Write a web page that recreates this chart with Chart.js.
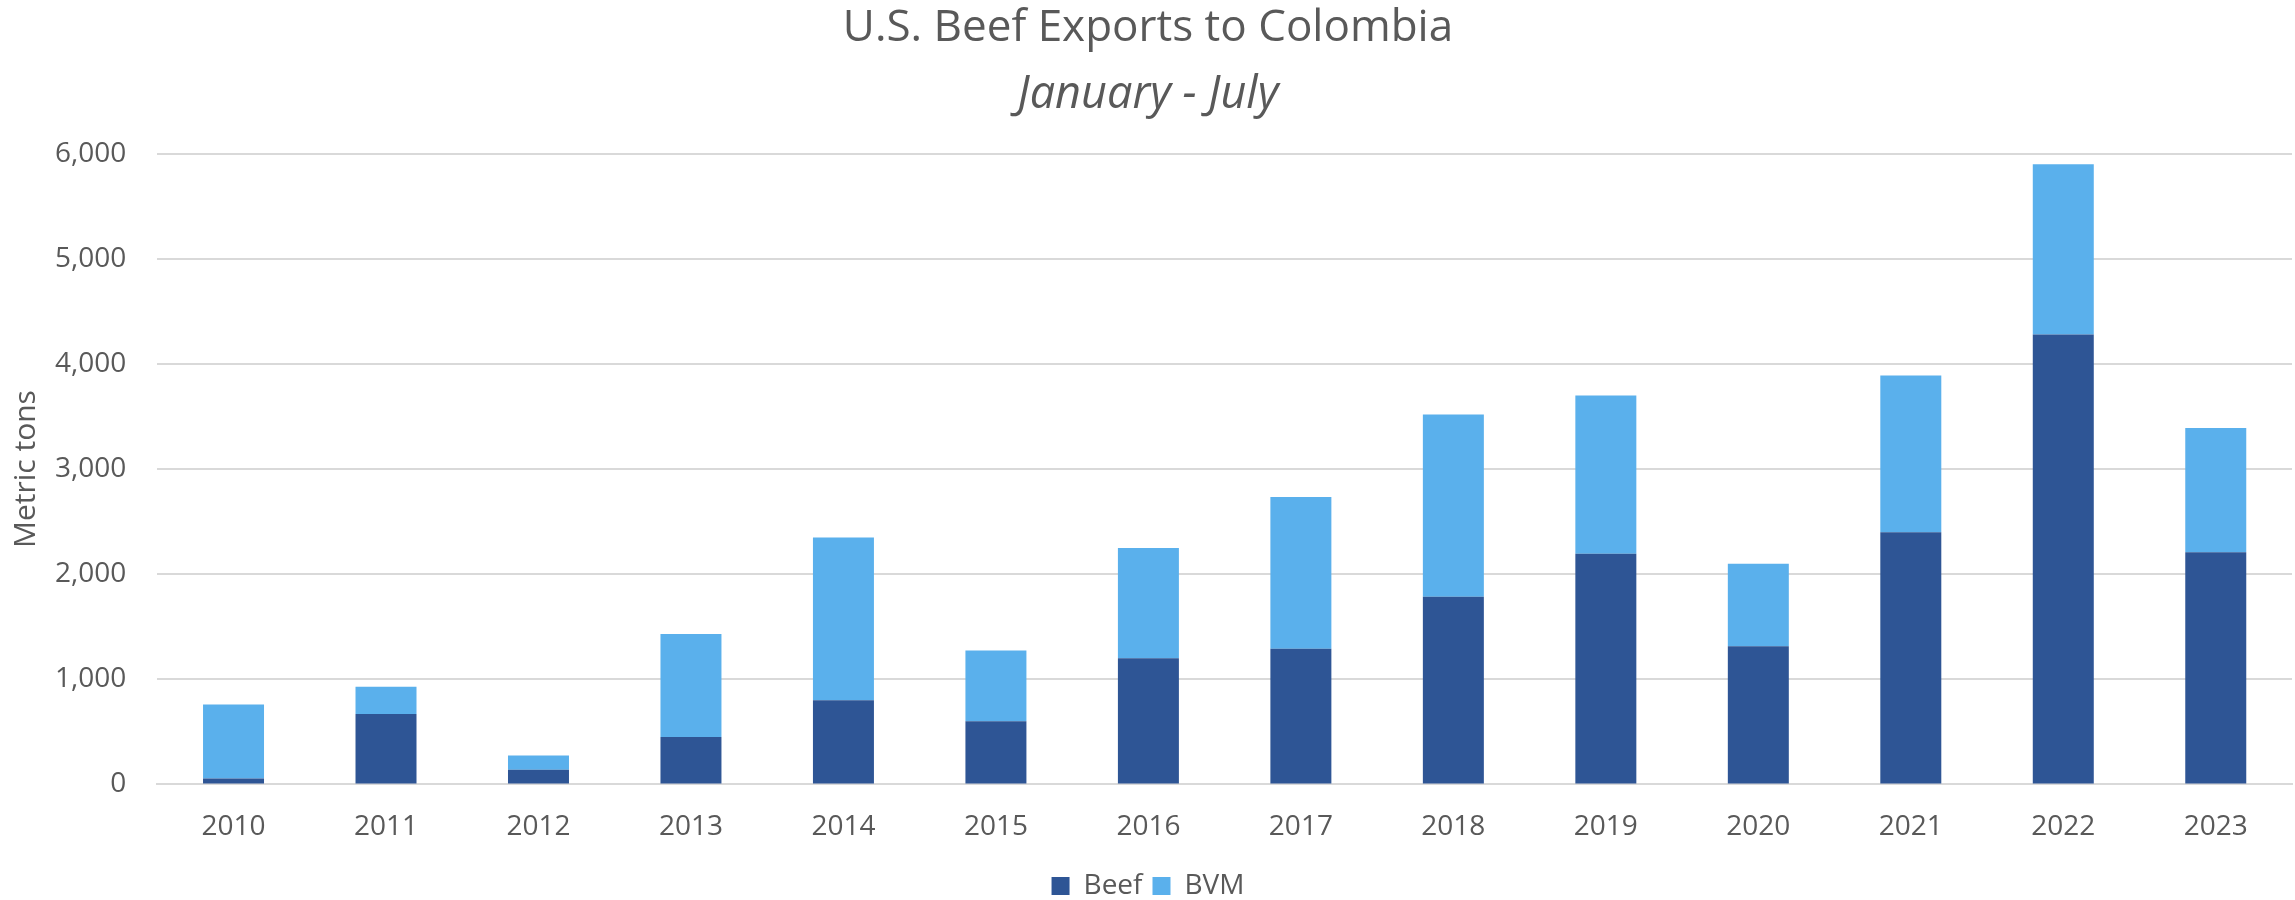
<!DOCTYPE html>
<html>
<head>
<meta charset="utf-8">
<script src="https://cdn.jsdelivr.net/npm/chart.js@4"></script>
<style>
  body { margin: 0; background: #fff; }
  #wrap { width: 2295px; height: 900px; }
</style>
</head>
<body>
<div id="wrap"><canvas id="chart" width="2295" height="900"></canvas></div>
<script>
// Jan-Jul exports, metric tons
const years = ["2010", "2011", "2012", "2013", "2014", "2015", "2016",
               "2017", "2018", "2019", "2020", "2021", "2022", "2023"];
const beef = [55, 670, 140, 450, 800, 600, 1200, 1290, 1785, 2195, 1315, 2400, 4280, 2210];
const bvm = [705, 260, 135, 980, 1550, 675, 1050, 1445, 1735, 1505, 785, 1490, 1620, 1180];

const textColor = "#595959";
const font = "'Open Sans', 'Noto Sans', sans-serif";

new Chart(document.getElementById("chart"), {
    type: "bar",
    data: {
        labels: years,
        datasets: [
            {
                label: "Beef",
                data: beef,
                backgroundColor: "#2e5595",
                barPercentage: 0.4,
                categoryPercentage: 1,
            },
            {
                label: "BVM",
                data: bvm,
                backgroundColor: "#5ab0ec",
                barPercentage: 0.4,
                categoryPercentage: 1,
            },
        ],
    },
    options: {
        responsive: false,
        animation: false,
        layout: {
            padding: {left: 4, right: 3, top: 2, bottom: -10},
        },
        plugins: {
            title: {
                display: true,
                text: "U.S. Beef Exports to Colombia",
                color: textColor,
                font: {family: font, size: 44, weight: "normal"},
                padding: {top: 0, bottom: 13},
            },
            subtitle: {
                display: true,
                text: "January - July",
                color: textColor,
                font: {family: font, size: 45, style: "italic"},
                padding: {top: 0, bottom: 32},
            },
            legend: {
                position: "bottom",
                labels: {
                    color: textColor,
                    font: {family: font, size: 28},
                    boxWidth: 18,
                    boxHeight: 18,
                    padding: 10,
                },
            },
            tooltip: {enabled: false},
        },
        scales: {
            x: {
                stacked: true,
                grid: {display: false},
                border: {color: "#d9d9d9", width: 2},
                ticks: {
                    color: textColor,
                    font: {family: font, size: 28},
                    padding: 18,
                },
            },
            y: {
                stacked: true,
                min: 0,
                max: 6000,
                border: {display: false},
                grid: {color: "#d9d9d9", lineWidth: 2, drawTicks: false},
                ticks: {
                    stepSize: 1000,
                    color: textColor,
                    font: {family: font, size: 28},
                    padding: 31,
                    callback: (v) => v.toLocaleString("en-US"),
                },
                title: {
                    display: true,
                    text: "Metric tons",
                    color: textColor,
                    font: {family: font, size: 30},
                    // tick padding is counted on both sides of the labels,
                    // so pull the title back in towards them
                    padding: {top: 4, bottom: -20},
                },
            },
        },
    },
});
</script>
</body>
</html>
